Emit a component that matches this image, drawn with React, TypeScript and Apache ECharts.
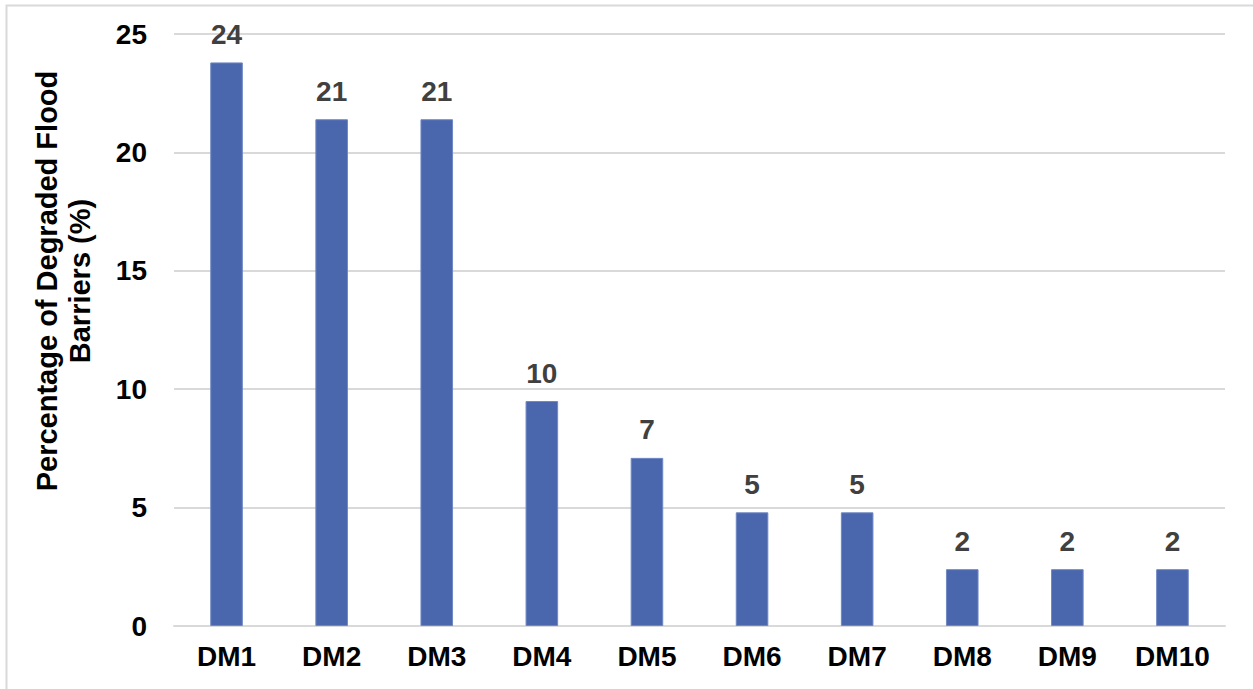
import React, { useEffect, useRef } from "react";
import * as echarts from "echarts";

const categories = ["DM1", "DM2", "DM3", "DM4", "DM5", "DM6", "DM7", "DM8", "DM9", "DM10"];
const values = [23.8, 21.4, 21.4, 9.5, 7.1, 4.8, 4.8, 2.4, 2.4, 2.4];
const yTicks = { min: 0, max: 25, interval: 5 };
const yTitle = "Percentage of Degraded Flood\nBarriers (%)";

const FONT = "'Liberation Sans', Arial, sans-serif";

export default function App() {
  const ref = useRef<HTMLDivElement>(null);
  useEffect(() => {
    if (!ref.current) return;
    const chart = echarts.init(ref.current, null, { renderer: "svg" });
    chart.setOption({
      animation: false,
      backgroundColor: "#ffffff",
      grid: { left: 174, right: 28, top: 34, bottom: 63, containLabel: false },
      xAxis: {
        type: "category",
        data: categories,
        axisLine: { show: true, lineStyle: { color: "#d9d9d9", width: 2 } },
        axisTick: { show: false },
        axisLabel: {
          color: "#000000",
          fontFamily: FONT,
          fontWeight: "bold",
          fontSize: 28,
          margin: 16,
        },
      },
      yAxis: {
        type: "value",
        min: yTicks.min,
        max: yTicks.max,
        interval: yTicks.interval,
        axisLine: { show: false },
        axisTick: { show: false },
        splitLine: { show: true, lineStyle: { color: "#d9d9d9", width: 2 } },
        axisLabel: {
          color: "#000000",
          fontFamily: FONT,
          fontWeight: "bold",
          fontSize: 28,
          margin: 27,
        },
      },
      series: [
        {
          type: "bar",
          data: values,
          barWidth: "31%",
          itemStyle: { color: "#4a66ad", borderColor: "#6f88c4", borderWidth: 1 },
          label: {
            show: true,
            position: "top",
            distance: 14,
            color: "#404040",
            fontFamily: FONT,
            fontWeight: "bold",
            fontSize: 28,
            formatter: (p: any) => String(Math.round(p.value)),
          },
        },
      ],
      graphic: [
        {
          type: "rect",
          shape: { x: 6.5, y: 5.5, width: 1300, height: 750 },
          style: { fill: "none", stroke: "#d9d9d9", lineWidth: 2 },
          silent: true,
        },
        {
          type: "text",
          x: 63,
          y: 281,
          rotation: Math.PI / 2,
          style: {
            text: yTitle,
            fill: "#000000",
            font: `bold 29px ${FONT}`,
            textAlign: "center",
            textVerticalAlign: "middle",
            lineHeight: 33,
          },
        },
      ],
    });
    return () => chart.dispose();
  }, []);
  return (
    <div
      ref={ref}
      style={{ position: "fixed", left: 0, top: 0, width: 1253, height: 689 }}
    />
  );
}
